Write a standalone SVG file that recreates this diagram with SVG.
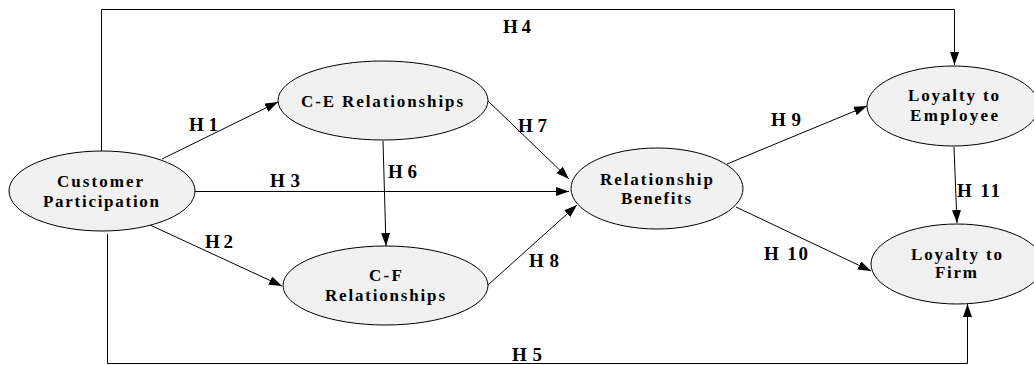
<svg xmlns="http://www.w3.org/2000/svg" width="1034" height="365" viewBox="0 0 1034 365">
<style>
.node ellipse{fill:#f1f1f1;stroke:#000;stroke-width:1}
.nt{font-family:"Liberation Serif","Times New Roman",serif;font-weight:bold;font-size:17px;text-anchor:middle;fill:#000}
.lbl{font-family:"Liberation Serif","Times New Roman",serif;font-weight:bold;font-size:19px;fill:#000}
.conn path{fill:none;stroke:#000;stroke-width:1}
</style>
<defs>
<marker id="ah" markerUnits="userSpaceOnUse" markerWidth="14" markerHeight="10" refX="13" refY="4.5" orient="auto">
<path d="M0,0 L13,4.5 L0,9 z" fill="#000"/>
</marker>
</defs>
<rect width="1034" height="365" fill="#fff"/>
<g class="conn" id="connectors">
<path d="M101.5,151 V9.5 H954.5 V65" marker-end="url(#ah)"/>
<path d="M107.5,234 V363.5 H967.5 V304" marker-end="url(#ah)"/>
<path d="M162,159 L278,102" marker-end="url(#ah)"/>
<path d="M150,225 L282,286" marker-end="url(#ah)"/>
<path d="M193,191.5 L569,191.5" marker-end="url(#ah)"/>
<path d="M383,141 L386,246" marker-end="url(#ah)"/>
<path d="M487,100 L569,179" marker-end="url(#ah)"/>
<path d="M488,285 L577,205" marker-end="url(#ah)"/>
<path d="M727,164 L867,106" marker-end="url(#ah)"/>
<path d="M736,207 L871,271" marker-end="url(#ah)"/>
<path d="M954,147 L957,223" marker-end="url(#ah)"/>
</g>
<g id="labels">
<text class="lbl" x="503" y="33" textLength="28" lengthAdjust="spacing">H 4</text>
<text class="lbl" x="189" y="131" textLength="29" lengthAdjust="spacing">H 1</text>
<text class="lbl" x="270" y="187" textLength="30" lengthAdjust="spacing">H 3</text>
<text class="lbl" x="388" y="178" textLength="29" lengthAdjust="spacing">H 6</text>
<text class="lbl" x="205" y="248" textLength="28" lengthAdjust="spacing">H 2</text>
<text class="lbl" x="512" y="361" textLength="30" lengthAdjust="spacing">H 5</text>
<text class="lbl" x="518" y="132" textLength="29" lengthAdjust="spacing">H 7</text>
<text class="lbl" x="529" y="267" textLength="30" lengthAdjust="spacing">H 8</text>
<text class="lbl" x="771" y="126" textLength="30" lengthAdjust="spacing">H 9</text>
<text class="lbl" x="764" y="260" textLength="44" lengthAdjust="spacing">H 10</text>
<text class="lbl" x="957" y="197" textLength="43" lengthAdjust="spacing">H 11</text>
</g>
<g class="node" id="customer-participation">
<ellipse cx="102" cy="191" rx="93" ry="40"/>
<text class="nt" x="100" y="187" textLength="86" lengthAdjust="spacing">Customer</text>
<text class="nt" x="101" y="207" textLength="116" lengthAdjust="spacing">Participation</text>
</g>
<g class="node" id="ce-relationships">
<ellipse cx="383" cy="100.5" rx="105" ry="39.5"/>
<text class="nt" x="382" y="107" textLength="162" lengthAdjust="spacing">C-E Relationships</text>
</g>
<g class="node" id="cf-relationships">
<ellipse cx="385.5" cy="285.5" rx="102.5" ry="39.5"/>
<text class="nt" x="385.5" y="281" textLength="33" lengthAdjust="spacing">C-F</text>
<text class="nt" x="385" y="301" textLength="120" lengthAdjust="spacing">Relationships</text>
</g>
<g class="node" id="relationship-benefits">
<ellipse cx="657" cy="188.5" rx="86" ry="40.5"/>
<text class="nt" x="656.5" y="185" textLength="113" lengthAdjust="spacing">Relationship</text>
<text class="nt" x="656" y="204" textLength="70" lengthAdjust="spacing">Benefits</text>
</g>
<g class="node" id="loyalty-employee">
<ellipse cx="953" cy="106" rx="86" ry="40"/>
<text class="nt" x="953.5" y="101" textLength="91" lengthAdjust="spacing">Loyalty to</text>
<text class="nt" x="954" y="121" textLength="88" lengthAdjust="spacing">Employee</text>
</g>
<g class="node" id="loyalty-firm">
<ellipse cx="957" cy="264" rx="86" ry="40"/>
<text class="nt" x="956.5" y="260" textLength="91" lengthAdjust="spacing">Loyalty to</text>
<text class="nt" x="956" y="278" textLength="42" lengthAdjust="spacing">Firm</text>
</g>
</svg>
